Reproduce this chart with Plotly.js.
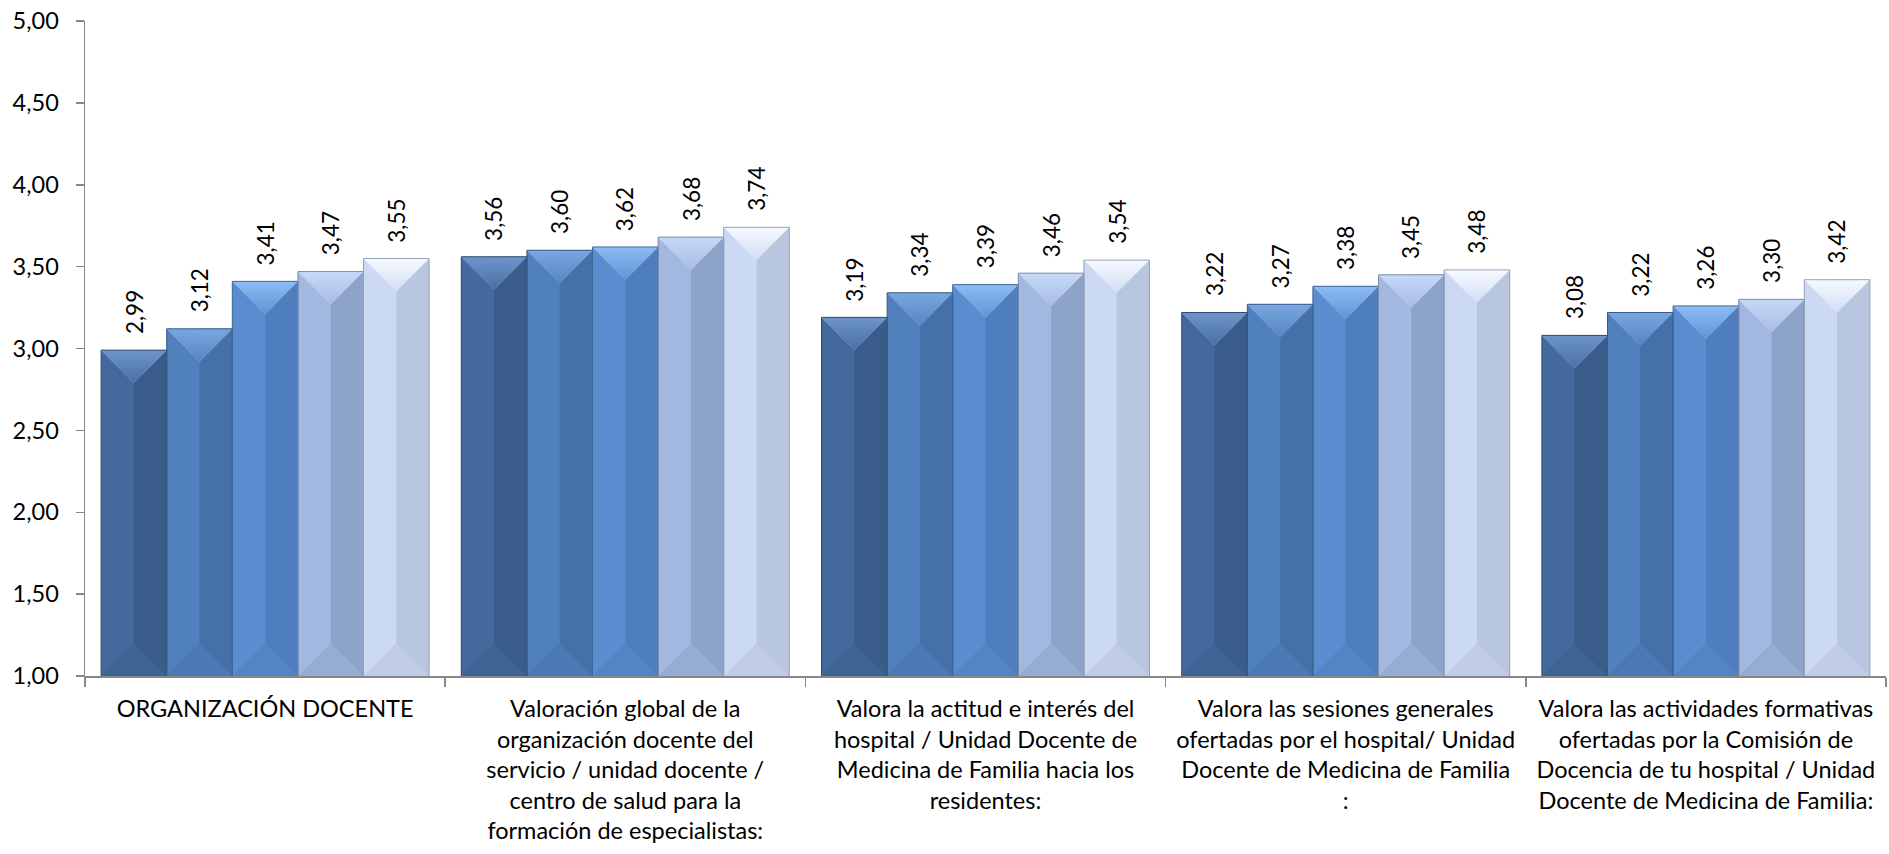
<!DOCTYPE html>
<html>
<head>
<meta charset="utf-8">
<script src="https://cdn.plot.ly/plotly-3.0.1.min.js"></script>
<style>
  html, body { margin: 0; padding: 0; background: #ffffff; }
  #chart { width: 1889px; height: 854px; }
</style>
</head>
<body>
<div id="chart"></div>
<script>
// Categorías del eje X
const categories = [
  "ORGANIZACIÓN DOCENTE",
  "Valoración global de la<br>organización docente del<br>servicio / unidad docente /<br>centro de salud para la<br>formación de especialistas:",
  "Valora la actitud e interés del<br>hospital / Unidad Docente de<br>Medicina de Familia hacia los<br>residentes:",
  "Valora las sesiones generales<br>ofertadas por el hospital/ Unidad<br>Docente de Medicina de Familia<br>:",
  "Valora las actividades formativas<br>ofertadas por la Comisión de<br>Docencia de tu hospital / Unidad<br>Docente de Medicina de Familia:"
];

// Valores de cada serie
const serie1 = [2.99, 3.56, 3.19, 3.22, 3.08];
const serie2 = [3.12, 3.60, 3.34, 3.27, 3.22];
const serie3 = [3.41, 3.62, 3.39, 3.38, 3.26];
const serie4 = [3.47, 3.68, 3.46, 3.45, 3.30];
const serie5 = [3.55, 3.74, 3.54, 3.48, 3.42];
const seriesNames = ["Serie 1", "Serie 2", "Serie 3", "Serie 4", "Serie 5"];

// Eje Y
const yTicks = [1, 1.5, 2, 2.5, 3, 3.5, 4, 4.5, 5];

const allSeries = [serie1, serie2, serie3, serie4, serie5];

// Estilo de las barras biseladas
const faceLeft  = ['#44699C', '#5081BD', '#5A8DCF', '#A2B8E0', '#CBD9F2'];
const faceRight = ['#395C8A', '#4571A9', '#4E7EBD', '#8EA3CA', '#B9C6E0'];
const topLight  = ['#6E95CB', '#7AA7E0', '#8DBCF4', '#C6D9F8', '#F6F9FF'];
const topDark   = ['#4970A4', '#5585C3', '#6094D6', '#A7BCE4', '#D2DEF4'];
const bottomCol = ['#3E6494', '#4A79B4', '#5384C4', '#97ACD2', '#C1CDE6'];
const edgeCol   = ['#2E4A6E', '#37598A', '#3E6598', '#7B8CAC', '#95A2BA'];

const W = 1889, H = 854;
const M = { l: 85, r: 3, t: 21, b: 178 };
const Y0 = 1, Y1 = 5;
const groupWidth = 0.9106;
const barW = groupWidth / allSeries.length;

// Profundidad del bisel (45°) expresada en unidades del eje Y
const plotW = W - M.l - M.r, plotH = H - M.t - M.b;
const pxPerX = plotW / categories.length;
const pxPerY = plotH / (Y1 - Y0);
const bevel = (barW / 2) * pxPerX / pxPerY;

const xIdx = categories.map((_, j) => j);
const traces = [];
const annotations = [];
const fmt = v => v.toFixed(2).replace('.', ',');

allSeries.forEach((vals, i) => {
  const off = -groupWidth / 2 + i * barW;
  // cara izquierda (barra completa)
  traces.push({
    type: 'bar', name: seriesNames[i], x: xIdx, y: vals.map(v => v - Y0), base: Y0,
    width: barW, offset: off,
    marker: { color: faceLeft[i], line: { width: 0 } },
    showlegend: false, hoverinfo: 'skip'
  });
  // cara derecha (mitad más oscura)
  traces.push({
    type: 'bar', name: seriesNames[i], x: xIdx, y: vals.map(v => v - Y0), base: Y0,
    width: barW / 2, offset: off + barW / 2,
    marker: { color: faceRight[i], line: { width: 0 } },
    showlegend: false, hoverinfo: 'skip'
  });
});

allSeries.forEach((vals, i) => {
  const off = -groupWidth / 2 + i * barW;
  vals.forEach((v, j) => {
    const x0 = j + off, x1 = x0 + barW, xc = x0 + barW / 2;
    // bisel superior
    traces.push({
      type: 'scatter', mode: 'lines', x: [x0, x1, xc, x0], y: [v, v, v - bevel, v],
      fill: 'toself', fillcolor: topDark[i],
      fillgradient: { type: 'vertical', start: v - bevel, stop: v,
        colorscale: [[0, topDark[i]], [1, topLight[i]]] },
      line: { width: 0.6, color: 'rgba(255,255,255,0.25)' },
      showlegend: false, hoverinfo: 'skip'
    });
    // bisel inferior
    traces.push({
      type: 'scatter', mode: 'lines', x: [x0, x1, xc, x0], y: [Y0, Y0, Y0 + bevel, Y0],
      fill: 'toself', fillcolor: bottomCol[i],
      line: { width: 0 },
      showlegend: false, hoverinfo: 'skip'
    });
    annotations.push({
      x: xc, y: v, xref: 'x', yref: 'y', text: fmt(v), textangle: -90,
      showarrow: false, xanchor: 'center', yanchor: 'bottom', yshift: 14,
      font: { family: 'Lato, sans-serif', size: 22.5, color: '#000000' }
    });
  });
  // contorno de las barras
  const ox = [], oy = [];
  vals.forEach((v, j) => {
    const x0 = j + off, x1 = x0 + barW;
    ox.push(x0, x0, x1, x1, null);
    oy.push(Y0, v, v, Y0, null);
  });
  traces.push({
    type: 'scatter', mode: 'lines', x: ox, y: oy,
    line: { width: 1, color: edgeCol[i] },
    showlegend: false, hoverinfo: 'skip'
  });
});

const layout = {
  width: W, height: H, autosize: false,
  margin: M,
  paper_bgcolor: '#ffffff', plot_bgcolor: '#ffffff',
  separators: ',.',
  barmode: 'overlay',
  showlegend: false,
  hovermode: false,
  font: { family: 'Lato, sans-serif', color: '#000000' },
  xaxis: {
    range: [-0.5, categories.length - 0.5],
    tickmode: 'array', tickvals: xIdx, ticktext: categories,
    ticks: '', showgrid: false, zeroline: false,
    showline: true, linecolor: '#878787', linewidth: 2,
    tickfont: { family: 'Lato, sans-serif', size: 23.5, color: '#000000' },
    ticklabelstandoff: 11,
    minor: { tickmode: 'linear', tick0: -0.5, dtick: 1, ticks: 'outside',
             ticklen: 9, tickwidth: 1.5, tickcolor: '#878787', showgrid: false }
  },
  yaxis: {
    range: [Y0, Y1],
    tickmode: 'array', tickvals: yTicks, tickformat: '.2f',
    ticks: 'outside', ticklen: 8, tickwidth: 1.5, tickcolor: '#878787',
    showgrid: false, zeroline: false,
    showline: true, linecolor: '#878787', linewidth: 1.5,
    tickfont: { family: 'Lato, sans-serif', size: 23.5, color: '#000000' },
    ticklabelstandoff: 12
  },
  annotations: annotations
};

Plotly.newPlot('chart', traces, layout, { staticPlot: true, displayModeBar: false });
</script>
</body>
</html>
